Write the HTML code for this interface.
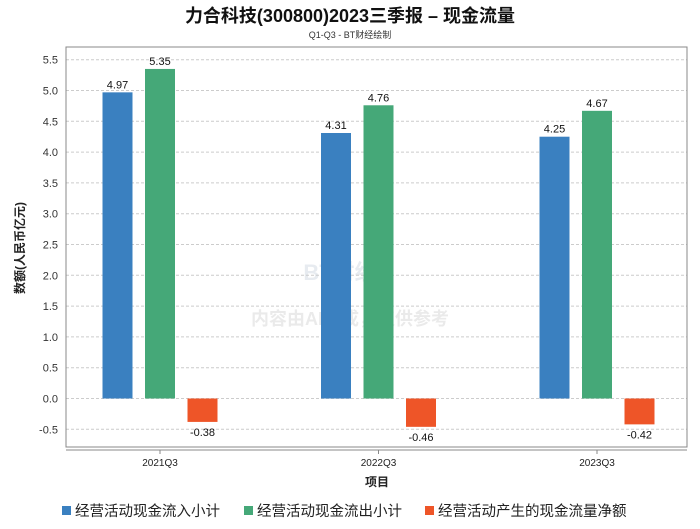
<!DOCTYPE html>
<html><head><meta charset="utf-8"><style>
body{margin:0;background:#fff;font-family:"Liberation Sans","Noto Sans CJK SC",sans-serif;}
svg text{font-family:"Liberation Sans","Noto Sans CJK SC",sans-serif;}
</style></head><body>
<svg id="chart" width="700" height="524" xmlns="http://www.w3.org/2000/svg">
<text x="350" y="22" text-anchor="middle" font-size="18" font-weight="bold" fill="#111">力合科技(300800)2023三季报 – 现金流量</text>
<text x="350" y="38" text-anchor="middle" font-size="9" fill="#333">Q1-Q3 - BT财经绘制</text>
<g opacity="0.2">
<text x="340" y="280" text-anchor="middle" font-size="22" fill="#8aa0b8" font-weight="bold">BT财经</text>
<text x="350" y="325" text-anchor="middle" font-size="18" fill="#999" font-weight="bold">内容由AI生成，仅供参考</text>
</g>
<g id="grid"></g>
<rect x="66" y="47" width="621" height="400" fill="none" stroke="#888" stroke-width="1"/>
<line x1="66" y1="450" x2="687" y2="450" stroke="#888"/>
<g id="bars"></g>
<g id="xticks"></g>
<text transform="translate(24,248) rotate(-90)" text-anchor="middle" font-size="12" font-weight="bold" fill="#222">数额(人民币亿元)</text>
<text x="377" y="486" text-anchor="middle" font-size="12" font-weight="bold" fill="#222">项目</text>
<g id="legend"></g>
</svg>
<script>
const categories=["2021Q3","2022Q3","2023Q3"];
const inflow=[4.97,4.31,4.25];
const outflow=[5.35,4.76,4.67];
const net=[-0.38,-0.46,-0.42];
const yTicks=[-0.5,0,0.5,1,1.5,2,2.5,3,3.5,4,4.5,5,5.5];
const seriesNames=["经营活动现金流入小计","经营活动现金流出小计","经营活动产生的现金流量净额"];
const colors=["#3a80c0","#45a878","#ee5528"];
const NS="http://www.w3.org/2000/svg";
const y=v=>398.5-v*61.6;
const xc=i=>160+218.5*i;
function mk(tag,attrs,parent,text){const e=document.createElementNS(NS,tag);for(const k in attrs)e.setAttribute(k,attrs[k]);if(text!==undefined)e.textContent=text;parent.appendChild(e);return e;}
const grid=document.getElementById('grid');
yTicks.forEach(t=>{
 const l=mk('line',{x1:66,x2:687,y1:y(t),y2:y(t),stroke:'#ccc','stroke-dasharray':'3,2'},grid);
 
 
 const tx=mk('text',{x:58,y:y(t)+4,'text-anchor':'end','font-size':11,fill:'#333'},grid,t.toFixed(1));
 
 
});
const bars=document.getElementById('bars');
const all=[inflow,outflow,net];
categories.forEach((c,i)=>{
 all.forEach((s,k)=>{
  const v=s[i];const cx=xc(i)+(k-1)*42.5;
  const top=Math.min(y(v),y(0)),h=Math.abs(y(v)-y(0));
  const r=mk('rect',{x:cx-15,y:top,width:30,height:h,fill:colors[k]},bars);
  
  
  const ly=v>=0?y(v)-4:y(v)+14;
  const t=mk('text',{x:cx,y:ly,'text-anchor':'middle','font-size':11,fill:'#111'},bars,v.toFixed(2));
  
  
 });
 const xt=document.getElementById('xticks');
 const tk=mk('line',{x1:xc(i),x2:xc(i),y1:450,y2:454,stroke:'#888'},xt);
 
 
 const lb=mk('text',{x:xc(i),y:466,'text-anchor':'middle','font-size':10,fill:'#222'},xt,c);
 
 
});
const lg=document.getElementById('legend');
const lx=[62,244,425];
seriesNames.forEach((n,k)=>{
 const g=mk('g',{},lg);
 
 
 mk('rect',{x:lx[k],y:506,width:9,height:9,fill:colors[k]},g);
 mk('text',{x:lx[k]+13,y:516,'font-size':14.5,fill:'#222'},g,n);
});
</script>
</body></html>
